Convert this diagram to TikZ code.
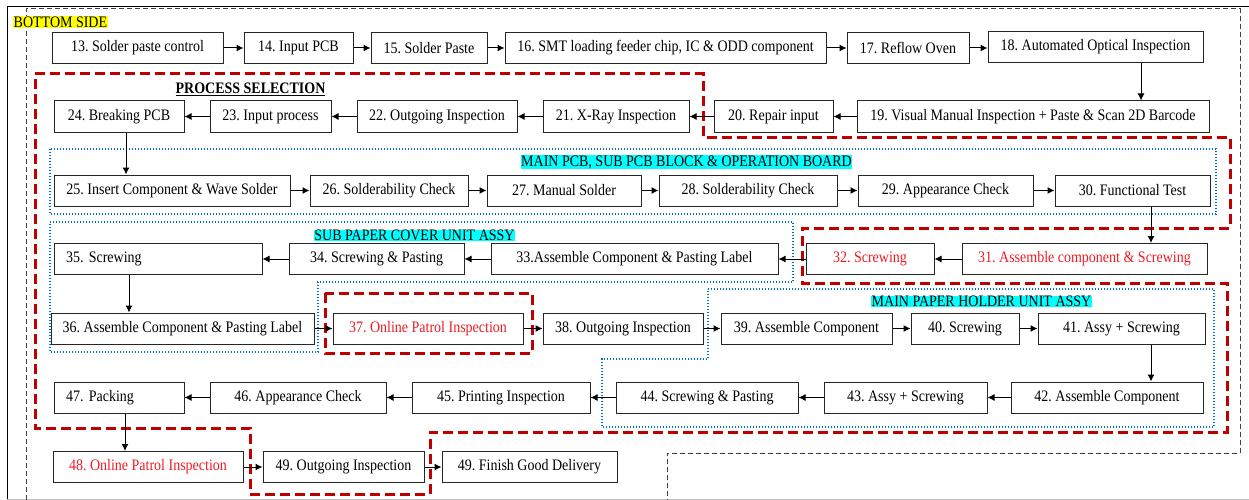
\documentclass[tikz,border=0pt]{standalone}
\usepackage{fontspec}
\setmainfont{Liberation Serif}[FakeStretch=0.875]
\usetikzlibrary{arrows.meta,positioning}
\definecolor{grpred}{RGB}{192,0,0}
\definecolor{txtred}{RGB}{237,28,36}
\definecolor{grpblue}{RGB}{0,112,192}
\definecolor{tagcyan}{RGB}{0,255,255}
\definecolor{tagyellow}{RGB}{255,255,0}
\frenchspacing
\begin{document}
\begin{tikzpicture}[x=1pt,y=-1pt]
\tikzstyle{every node}+=[font=\fontsize{16}{18}\selectfont]
\tikzstyle{pbox}=[draw=black!85, fill=white, line width=1pt, minimum height=31pt, inner sep=2pt]
\tikzstyle{lbox}=[pbox, align=left, inner xsep=12pt]
\tikzstyle{rtext}=[text=txtred]
\tikzstyle{arr}=[-{Latex[length=7pt,width=7pt]}, line width=1pt]
\tikzstyle{redgrp}=[grpred, line width=3pt, dash pattern=on 10pt off 5pt]
\tikzstyle{sidegrp}=[black!75, line width=1pt, dash pattern=on 5pt off 3pt]
\tikzstyle{bluegrp}=[grpblue, line width=1.4pt, dash pattern=on 1.4pt off 1.6pt]
\tikzstyle{tag}=[fill=tagcyan, inner sep=0.5pt]
\useasboundingbox (0,0) rectangle (1249,500);
\draw [black, line width=0.8pt] (1249,6) -- (7,6) -- (7,499);
\draw [black!25, line width=0.8pt] (7,499) -- (1249,499);
\draw [sidegrp] (26,500) -- (26,9) -- (1240,9) -- (1240,453) -- (667,453) -- (667,500);
\node [fill=tagyellow, inner sep=0.5pt, anchor=west] (side) at (13,22) {BOTTOM SIDE};
\draw [redgrp] (35,74) -- (703,74) -- (703,137) -- (1230,137) -- (1230,228) -- (802,228) -- (802,283) -- (1227,283) -- (1227,432) -- (430,432) -- (430,494) -- (250,494) -- (250,428) -- (35,428) -- cycle;
\draw [redgrp] (325,293) rectangle (532,353);
\draw [bluegrp] (50,149) rectangle (1216,214);
\draw [bluegrp] (50,222) -- (793,222) -- (793,282) -- (318,282) -- (318,352) -- (50,352) -- cycle;
\draw [bluegrp] (708,289) -- (1214,289) -- (1214,427) -- (602,427) -- (602,359) -- (708,359) -- cycle;
\node (procsel) at (250.5,89) {\underline{\textbf{PROCESS SELECTION}}};
\node [tag] (mainpcb) at (686.5,162) {MAIN PCB, SUB PCB BLOCK \& OPERATION BOARD};
\node [tag] (subpaper) at (414.5,235.5) {SUB PAPER COVER UNIT ASSY};
\node [tag] (mainpaper) at (981.5,301.5) {MAIN PAPER HOLDER UNIT ASSY};
\node [pbox, minimum width=171pt] (n13) at (137.5,48) {13. Solder paste control};
\node [pbox, minimum width=109pt] (n14) at (298.5,48) {14. Input PCB};
\node [pbox, minimum width=116pt] (n15) at (429,48) {15. Solder Paste};
\node [pbox, minimum width=321pt] (n16) at (665.5,48) {16. SMT loading feeder chip, IC \& ODD component};
\node [pbox, minimum width=122pt] (n17) at (908,48) {17. Reflow Oven};
\node [pbox, minimum width=215pt] (n18) at (1095.5,47) {18. Automated Optical Inspection};
\node [pbox, minimum width=352pt] (n19) at (1033,116.5) {19. Visual Manual Inspection + Paste \& Scan 2D Barcode};
\node [pbox, minimum width=119pt] (n20) at (773.5,116.5) {20. Repair input};
\node [pbox, minimum width=146pt] (n21) at (616,116.5) {21. X-Ray Inspection};
\node [pbox, minimum width=160pt] (n22) at (437,116.5) {22. Outgoing Inspection};
\node [pbox, minimum width=121pt] (n23) at (270.5,116.5) {23. Input process};
\node [pbox, minimum width=130pt] (n24) at (119,116.5) {24. Breaking PCB};
\node [pbox, minimum width=236pt] (n25) at (172,190.5) {25. Insert Component \& Wave Solder};
\node [pbox, minimum width=158pt] (n26) at (389,190.5) {26. Solderability Check};
\node [pbox, minimum width=154pt] (n27) at (564,190.5) {27. Manual Solder};
\node [pbox, minimum width=178pt] (n28) at (748,190.5) {28. Solderability Check};
\node [pbox, minimum width=175pt] (n29) at (945.5,190.5) {29. Appearance Check};
\node [pbox, minimum width=155pt] (n30) at (1132.5,190.5) {30. Functional Test};
\node [pbox, rtext, minimum width=245pt] (n31) at (1084.5,259) {31. Assemble component \& Screwing};
\node [pbox, rtext, minimum width=128pt] (n32) at (870,259) {32. Screwing};
\node [pbox, minimum width=287pt] (n33) at (634.5,259) {33.Assemble Component \& Pasting Label};
\node [pbox, minimum width=175pt] (n34) at (376.5,259) {34. Screwing \& Pasting};
\node [lbox, text width=184pt] (n35) at (158,259) {35. Screwing};
\node [pbox, minimum width=263pt] (n36) at (182.5,328.5) {36. Assemble Component \& Pasting Label};
\node [pbox, rtext, minimum width=190pt] (n37) at (428,328.5) {37. Online Patrol Inspection};
\node [pbox, minimum width=160pt] (n38) at (623,328.5) {38. Outgoing Inspection};
\node [pbox, minimum width=171pt] (n39) at (806.5,328.5) {39. Assemble Component};
\node [pbox, minimum width=108pt] (n40) at (965,328.5) {40. Screwing};
\node [pbox, minimum width=167pt] (n41) at (1121.5,328.5) {41. Assy + Screwing};
\node [pbox, minimum width=192pt] (n42) at (1107,397.5) {42. Assemble Component};
\node [pbox, minimum width=163pt] (n43) at (905.5,397.5) {43. Assy + Screwing};
\node [pbox, minimum width=182pt] (n44) at (707,397.5) {44. Screwing \& Pasting};
\node [pbox, minimum width=178pt] (n45) at (501,397.5) {45. Printing Inspection};
\node [pbox, minimum width=176pt] (n46) at (298,397.5) {46. Appearance Check};
\node [lbox, text width=106pt] (n47) at (119,397.5) {47. Packing};
\node [pbox, rtext, minimum width=190pt] (n48) at (148,467) {48. Online Patrol Inspection};
\node [pbox, minimum width=161pt] (n49) at (343.5,467) {49. Outgoing Inspection};
\node [pbox, minimum width=175pt] (n50) at (529.5,467) {49. Finish Good Delivery};
\draw [arr] (n13) -- (n14);
\draw [arr] (n14) -- (n15);
\draw [arr] (n15) -- (n16);
\draw [arr] (n16) -- (n17);
\draw [arr] (n17.east) -- (n17.east -| n18.west);
\coordinate (down18) at (1141,0);
\draw [arr] (down18 |- n18.south) -- (down18 |- n19.north);
\draw [arr] (n19) -- (n20);
\draw [arr] (n20) -- (n21);
\draw [arr] (n21) -- (n22);
\draw [arr] (n22) -- (n23);
\draw [arr] (n23) -- (n24);
\coordinate (down24) at (126,0);
\draw [arr] (down24 |- n24.south) -- (down24 |- n25.north);
\draw [arr] (n25) -- (n26);
\draw [arr] (n26) -- (n27);
\draw [arr] (n27) -- (n28);
\draw [arr] (n28) -- (n29);
\draw [arr] (n29) -- (n30);
\coordinate (down30) at (1151,0);
\draw [arr] (down30 |- n30.south) -- (down30 |- n31.north);
\draw [arr] (n31) -- (n32);
\draw [arr] (n32) -- (n33);
\draw [arr] (n33) -- (n34);
\draw [arr] (n34) -- (n35);
\coordinate (down35) at (129,0);
\draw [arr] (down35 |- n35.south) -- (down35 |- n36.north);
\draw [arr] (n36) -- (n37);
\draw [arr] (n37) -- (n38);
\draw [arr] (n38) -- (n39);
\draw [arr] (n39) -- (n40);
\draw [arr] (n40) -- (n41);
\coordinate (down41) at (1151,0);
\draw [arr] (down41 |- n41.south) -- (down41 |- n42.north);
\draw [arr] (n42) -- (n43);
\draw [arr] (n43) -- (n44);
\draw [arr] (n44) -- (n45);
\draw [arr] (n45) -- (n46);
\draw [arr] (n46) -- (n47);
\coordinate (down47) at (125,0);
\draw [arr] (down47 |- n47.south) -- (down47 |- n48.north);
\draw [arr] (n48) -- (n49);
\draw [arr] (n49) -- (n50);
\end{tikzpicture}
\end{document}
